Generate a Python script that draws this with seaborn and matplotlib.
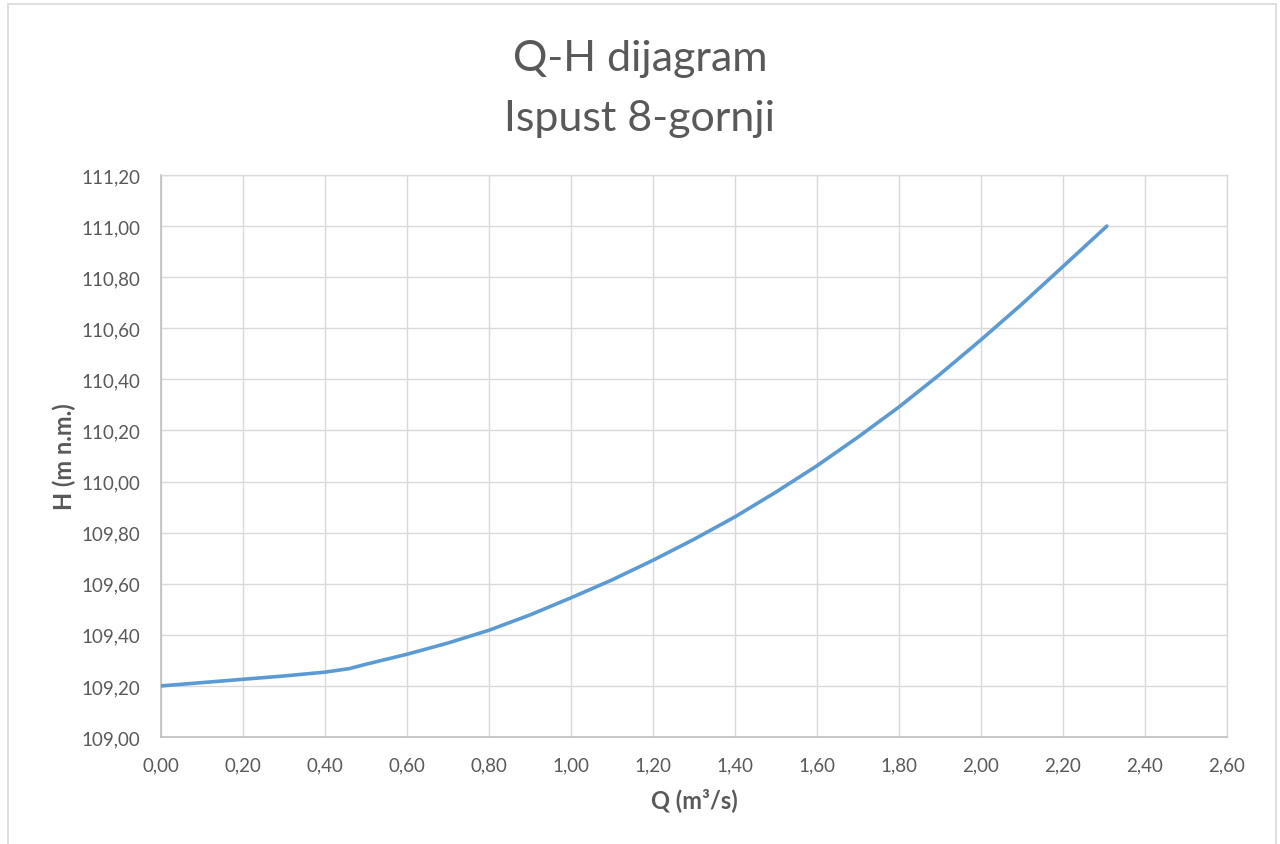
import matplotlib
matplotlib.use("Agg")
import matplotlib.pyplot as plt
import seaborn as sns
import pandas as pd
from matplotlib.ticker import FuncFormatter, MultipleLocator
from matplotlib.patches import Rectangle

Q = [0.00, 0.10, 0.20, 0.30, 0.40, 0.46, 0.50, 0.60, 0.70, 0.80, 0.90, 1.00, 1.10, 1.20,
     1.30, 1.40, 1.50, 1.60, 1.70, 1.80, 1.90, 2.00, 2.10, 2.20, 2.307]
H = [109.200, 109.213, 109.226, 109.239, 109.254, 109.268, 109.285, 109.324, 109.368, 109.418,
     109.478, 109.545, 109.615, 109.692, 109.774, 109.862, 109.959, 110.062, 110.174, 110.292,
     110.420, 110.555, 110.695, 110.842, 111.000]

title1 = "Q-H dijagram"
title2 = "Ispust 8-gornji"
xlabel = "Q (m³/s)"
ylabel = "H (m n.m.)"

sns.set_style("white")
plt.rcParams['font.family'] = ['Lato', 'DejaVu Sans']

df = pd.DataFrame({"Q": Q, "H": H})

fig = plt.figure(figsize=(12.8, 8.45), dpi=100)
fig.patches.append(Rectangle((0.006, -0.01), 0.991, 1.004, transform=fig.transFigure,
                             fill=False, edgecolor="#D9D9D9", linewidth=1.2))
ax = fig.add_axes([0.1258, 0.1266, 0.8328, 0.6651])

sns.lineplot(data=df, x="Q", y="H", ax=ax, color="#5B9BD5", linewidth=2.6, zorder=3)

ax.set_xlim(0, 2.6)
ax.set_ylim(109.0, 111.2)
ax.xaxis.set_major_locator(MultipleLocator(0.2))
ax.yaxis.set_major_locator(MultipleLocator(0.2))
fmt = FuncFormatter(lambda v, p: f"{v:.2f}".replace(".", ","))
ax.xaxis.set_major_formatter(fmt)
ax.yaxis.set_major_formatter(fmt)
ax.grid(True, color="#D9D9D9", linewidth=1.0)
ax.set_axisbelow(True)
for s in ["top", "right"]:
    ax.spines[s].set_color("#D9D9D9")
    ax.spines[s].set_linewidth(1.0)
for s in ["left", "bottom"]:
    ax.spines[s].set_color("#BFBFBF")
    ax.spines[s].set_linewidth(1.2)
ax.tick_params(axis="both", length=0, labelsize=13.5, labelcolor="#595959")
ax.tick_params(axis="x", pad=14)
ax.tick_params(axis="y", pad=15)

ax.set_xlabel(xlabel, fontsize=17, fontweight="bold", color="#595959", labelpad=10)
ax.set_ylabel(ylabel, fontsize=17, fontweight="bold", color="#595959", labelpad=4)

fig.text(0.5, 0.930, title1, ha="center", va="center", fontsize=31, color="#595959")
fig.text(0.5, 0.859, title2, ha="center", va="center", fontsize=31, color="#595959")

fig.savefig("out.png", dpi=100)
